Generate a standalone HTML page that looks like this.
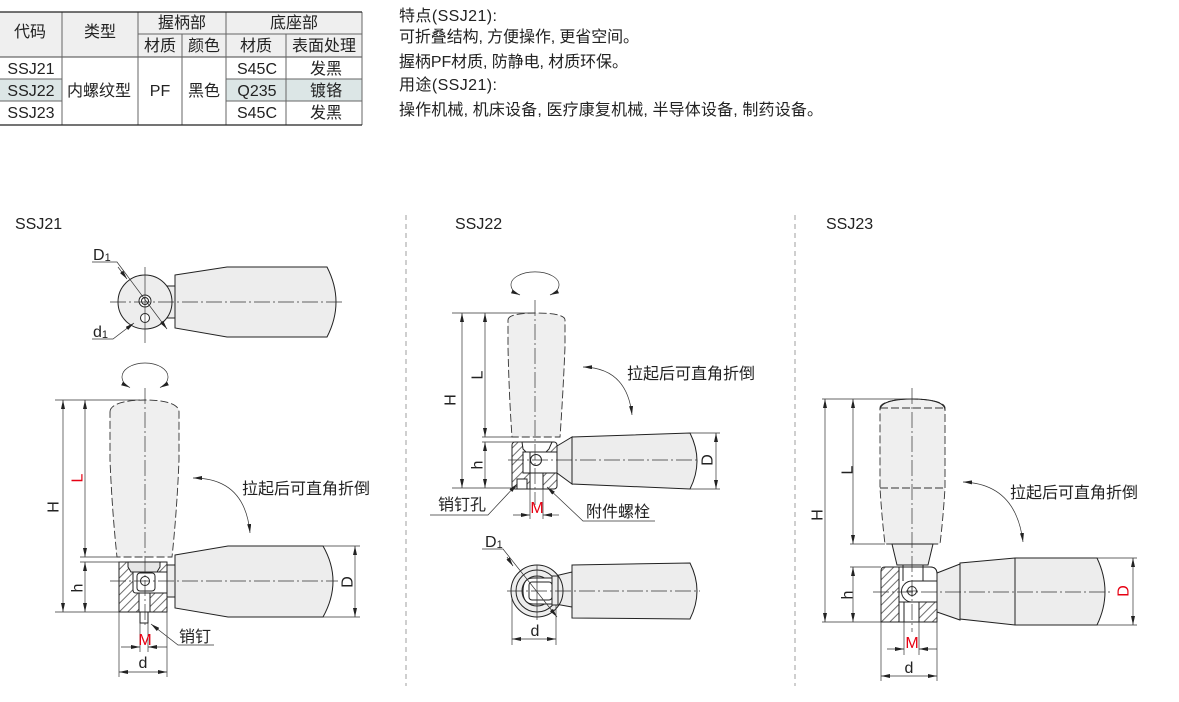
<!DOCTYPE html>
<html><head><meta charset="utf-8"><style>
html,body{margin:0;padding:0;background:#fff;}
svg{display:block;}
text{font-family:"Liberation Sans","Noto Sans CJK SC",sans-serif;fill:#222;}
.o{stroke:#222;stroke-width:1;}
.c{stroke:#333;stroke-width:0.7;stroke-dasharray:16 3 2 3;fill:none;}
.p{stroke:#333;stroke-width:0.9;stroke-dasharray:8 3;}
.d{stroke:#333;stroke-width:0.7;fill:none;}
.g{fill:#ededed;}
.w{fill:#fff;}
.r{fill:#e60012;}
</style></head><body>
<svg width="1179" height="702" viewBox="0 0 1179 702" xmlns="http://www.w3.org/2000/svg">
<defs>
<marker id="a" viewBox="0 0 9 4" refX="9" refY="2" markerWidth="9" markerHeight="4" markerUnits="userSpaceOnUse" orient="auto-start-reverse"><path d="M0,0 L9,2 L0,4 Z" fill="#222"/></marker>
<pattern id="hp" patternUnits="userSpaceOnUse" width="6" height="6" patternTransform="rotate(45)"><rect width="6" height="6" fill="#fff"/><line x1="1" y1="0" x2="1" y2="6" stroke="#333" stroke-width="0.7"/></pattern>
</defs>

<!-- ===== TABLE ===== -->
<rect x="0" y="12" width="362" height="45" fill="#efefef"/>
<rect x="0" y="79" width="62" height="22" fill="#dce6e6"/>
<rect x="226" y="79" width="136" height="22" fill="#dce6e6"/>
<g stroke="#666" stroke-width="1" fill="none">
<line x1="138" y1="34" x2="362" y2="34"/>
<line x1="0" y1="57" x2="362" y2="57" stroke="#444"/>
<line x1="0" y1="79" x2="62" y2="79"/><line x1="226" y1="79" x2="362" y2="79"/>
<line x1="0" y1="101" x2="62" y2="101"/><line x1="226" y1="101" x2="362" y2="101"/>
<line x1="62" y1="12" x2="62" y2="125"/>
<line x1="138" y1="12" x2="138" y2="125"/>
<line x1="182" y1="34" x2="182" y2="125"/>
<line x1="226" y1="12" x2="226" y2="125"/>
<line x1="286" y1="34" x2="286" y2="125"/>
<line x1="362" y1="12" x2="362" y2="125"/>
</g>
<line x1="0" y1="12" x2="362" y2="12" stroke="#222" stroke-width="1.3"/>
<line x1="0" y1="125" x2="362" y2="125" stroke="#222" stroke-width="1.3"/>
<g font-size="16" text-anchor="middle">
<text x="30" y="37">代码</text>
<text x="100" y="37">类型</text>
<text x="182" y="28">握柄部</text>
<text x="294" y="28">底座部</text>
<text x="160" y="51">材质</text>
<text x="204" y="51">颜色</text>
<text x="256" y="51">材质</text>
<text x="324" y="51">表面处理</text>
<text x="31" y="74">SSJ21</text>
<text x="31" y="96">SSJ22</text>
<text x="31" y="118">SSJ23</text>
<text x="99" y="96">内螺纹型</text>
<text x="160" y="96">PF</text>
<text x="204" y="96">黑色</text>
<text x="257" y="74">S45C</text>
<text x="257" y="96">Q235</text>
<text x="257" y="118">S45C</text>
<text x="326" y="74">发黑</text>
<text x="326" y="96">镀铬</text>
<text x="326" y="118">发黑</text>
</g>

<!-- ===== DESCRIPTION ===== -->
<g font-size="16" xml:space="preserve">
<text x="399" y="21" textLength="98" lengthAdjust="spacing">特点(SSJ21):</text>
<text x="399" y="42" textLength="240" lengthAdjust="spacing">可折叠结构, 方便操作, 更省空间。</text>
<text x="399" y="67" textLength="229" lengthAdjust="spacing">握柄PF材质, 防静电, 材质环保。</text>
<text x="399" y="90" textLength="98" lengthAdjust="spacing">用途(SSJ21):</text>
<text x="399" y="115" textLength="424" lengthAdjust="spacing">操作机械, 机床设备, 医疗康复机械, 半导体设备, 制药设备。</text>
</g>

<!-- separators -->
<line x1="406" y1="215" x2="406" y2="686" stroke="#888" stroke-width="0.8" stroke-dasharray="5 4"/>
<line x1="795" y1="215" x2="795" y2="686" stroke="#888" stroke-width="0.8" stroke-dasharray="5 4"/>

<!-- titles -->
<g font-size="16">
<text x="15" y="229">SSJ21</text>
<text x="455" y="229">SSJ22</text>
<text x="826" y="229">SSJ23</text>
</g>

<!-- ===== SSJ21 TOP VIEW ===== -->
<path class="g o" d="M175,275 L227,267 L327,267 Q345,302 327,337 L227,337 L175,328 Z"/>
<rect class="g o" x="165" y="286" width="10" height="32"/>
<circle class="g o" cx="145" cy="302" r="27"/>
<circle class="w o" cx="145" cy="301" r="6"/>
<circle class="w o" cx="145" cy="301" r="3.5"/>
<circle class="w o" cx="145" cy="318" r="4.5"/>
<line class="c" x1="110" y1="302" x2="343" y2="302"/>
<line class="d" x1="145" y1="267" x2="145" y2="343"/>
<polyline class="d" points="92,262 117,262 167,329" marker-end="url(#a)"/>
<line class="d" x1="118" y1="267" x2="127" y2="279" marker-end="url(#a)"/>
<polyline class="d" points="92,339 113,339 134,323" marker-end="url(#a)"/>
<text x="93" y="260" font-size="16">D<tspan font-size="11" dy="1">1</tspan></text>
<text x="93" y="337" font-size="16">d<tspan font-size="11" dy="1">1</tspan></text>

<!-- ===== SSJ21 SIDE VIEW ===== -->
<path class="d" d="M130,387.6 A23,14 0 1,1 160,387.6" marker-start="url(#a)" marker-end="url(#a)"/>
<path class="p" fill="#efefef" d="M110,412 C110,404 125,400 145,400 C165,400 179,404 179,412 L179,460 Q177,510 172,557 L117,557 Q112,510 110,460 Z"/>
<!-- base -->
<rect class="o" x="119" y="562" width="48" height="50" fill="url(#hp)"/>
<path class="o" fill="#e6e6e6" d="M128,562 L160,562 L160,567 L157,572 L131,572 L128,567 Z"/>
<path class="o w" d="M133,572 L167,572 L167,593 L136,593 Q133,593 133,590 Z"/>
<rect class="o w" x="137" y="573" width="18" height="18" rx="3"/>
<circle class="o w" cx="145" cy="581" r="4.5"/>
<rect class="o w" x="139" y="593" width="11" height="19"/>
<rect class="o w" x="140" y="612" width="8" height="11"/>
<!-- neck & handle -->
<rect class="g o" x="167" y="565" width="8" height="32"/>
<path class="g o" d="M175,555 L228,546 L323,546 Q343,581 323,617 L228,617 L175,608 Z"/>
<line class="c" x1="110" y1="581" x2="338" y2="581"/>
<line class="c" x1="145" y1="388" x2="145" y2="628"/>
<!-- dims -->
<g class="d">
<line x1="55" y1="400" x2="140" y2="400"/>
<line x1="80" y1="557" x2="117" y2="557"/>
<line x1="80" y1="562" x2="127" y2="562"/>
<line x1="55" y1="612" x2="119" y2="612"/>
<line x1="63" y1="400" x2="63" y2="612" marker-start="url(#a)" marker-end="url(#a)"/>
<line x1="85" y1="400" x2="85" y2="557" marker-start="url(#a)" marker-end="url(#a)"/>
<line x1="85" y1="562" x2="85" y2="612" marker-start="url(#a)" marker-end="url(#a)"/>
<line x1="323" y1="546" x2="360" y2="546"/>
<line x1="323" y1="617" x2="360" y2="617"/>
<line x1="355" y1="546" x2="355" y2="617" marker-start="url(#a)" marker-end="url(#a)"/>
<line x1="140" y1="623" x2="140" y2="652"/>
<line x1="148" y1="623" x2="148" y2="652"/>
<line x1="121" y1="647" x2="140" y2="647" marker-end="url(#a)"/>
<line x1="167" y1="647" x2="148" y2="647" marker-end="url(#a)"/>
<line x1="119" y1="612" x2="119" y2="677"/>
<line x1="167" y1="612" x2="167" y2="677"/>
<line x1="119" y1="672" x2="167" y2="672" marker-start="url(#a)" marker-end="url(#a)"/>
<path d="M193,478 Q245,478 250,533" marker-start="url(#a)" marker-end="url(#a)"/>
<polyline points="214,645 178,645 151,624" marker-end="url(#a)"/>
</g>
<g font-size="16" text-anchor="middle">
<text transform="translate(53,507) rotate(-90)" dy="0.35em">H</text>
<text class="r" transform="translate(77,478) rotate(-90)" dy="0.35em">L</text>
<text transform="translate(77,588) rotate(-90)" dy="0.35em">h</text>
<text transform="translate(347,582) rotate(-90)" dy="0.35em">D</text>
<text class="r" x="145" y="645">M</text>
<text x="143" y="668">d</text>
</g>
<text x="242" y="494" font-size="16">拉起后可直角折倒</text>
<text x="179" y="642" font-size="16">销钉</text>

<!-- ===== SSJ22 SIDE VIEW ===== -->
<path class="d" d="M520,295 A24,13 0 1,1 550,295" marker-start="url(#a)" marker-end="url(#a)"/>
<path class="p" fill="#efefef" d="M508,320 C508,315 520,313 536,313 C552,313 565,315 565,320 L565,347 Q563,395 560,437 L512,437 Q509,395 508,347 Z"/>
<rect class="o" x="512" y="442" width="45" height="47" rx="3" fill="url(#hp)"/>
<path class="o w" d="M522,442 L552,442 L549,449 L546,452 L526,452 L523,449 Z"/>
<rect class="o w" x="523" y="452" width="34" height="21"/>
<rect class="o w" x="530" y="452" width="27" height="21"/>
<circle class="o w" cx="536" cy="460" r="5.5"/>
<rect class="o w" x="530" y="473" width="13" height="16"/>
<rect class="o w" x="517" y="479" width="10" height="10"/>
<path class="g o" d="M557,446 L572,437 L572,484 L557,473 Z"/>
<path class="g o" d="M572,437 L690,433 Q704,461 690,489 L572,484 Z"/>
<line class="c" x1="508" y1="460" x2="697" y2="460"/>
<line class="c" x1="535" y1="300" x2="535" y2="505"/>
<g class="d">
<line x1="452" y1="313" x2="535" y2="313"/>
<line x1="482" y1="437" x2="512" y2="437"/>
<line x1="482" y1="442" x2="522" y2="442"/>
<line x1="452" y1="488" x2="512" y2="488"/>
<line x1="462" y1="313" x2="462" y2="488" marker-start="url(#a)" marker-end="url(#a)"/>
<line x1="485" y1="313" x2="485" y2="437" marker-start="url(#a)" marker-end="url(#a)"/>
<line x1="485" y1="442" x2="485" y2="488" marker-start="url(#a)" marker-end="url(#a)"/>
<line x1="690" y1="433" x2="720" y2="433"/>
<line x1="690" y1="489" x2="720" y2="489"/>
<line x1="716" y1="433" x2="716" y2="489" marker-start="url(#a)" marker-end="url(#a)"/>
<line x1="530" y1="489" x2="530" y2="519"/>
<line x1="543" y1="489" x2="543" y2="519"/>
<line x1="513" y1="515" x2="530" y2="515" marker-end="url(#a)"/>
<line x1="559" y1="515" x2="543" y2="515" marker-end="url(#a)"/>
<path d="M583,367 Q627,368 632,415" marker-start="url(#a)" marker-end="url(#a)"/>
<polyline points="430,515 488,515 517,484" marker-end="url(#a)"/>
<polyline points="655,521 583,521 547,487" marker-end="url(#a)"/>
</g>
<g font-size="16" text-anchor="middle">
<text transform="translate(450,400) rotate(-90)" dy="0.35em">H</text>
<text transform="translate(477,375) rotate(-90)" dy="0.35em">L</text>
<text transform="translate(477,465) rotate(-90)" dy="0.35em">h</text>
<text transform="translate(707,460) rotate(-90)" dy="0.35em">D</text>
<text class="r" x="537" y="513">M</text>
</g>
<text x="627" y="379" font-size="16">拉起后可直角折倒</text>
<text x="438" y="510" font-size="16">销钉孔</text>
<text x="586" y="517" font-size="16">附件螺栓</text>

<!-- ===== SSJ22 BOTTOM VIEW ===== -->
<path class="g o" d="M572,565 L690,563 Q704,591 690,619 L572,618 Z"/>
<path class="g o" d="M555,576 L572,572 L572,607 L555,604 Z"/>
<circle class="g o" cx="537" cy="591" r="26"/>
<circle class="o" fill="none" cx="537" cy="591" r="21"/>
<circle class="g o" cx="537" cy="591" r="15"/>
<path class="o w" d="M533,578 L556,578 L556,604 L533,604 Q523,604 523,591 Q523,578 533,578 Z"/>
<rect class="o w" x="529" y="582" width="23" height="18" rx="3"/>
<rect class="g o" x="552" y="576" width="6" height="29"/>
<line class="c" x1="507" y1="591" x2="700" y2="591"/>
<line class="d" x1="537" y1="565" x2="537" y2="620"/>
<g class="d">
<polyline points="482,549 503,549 557,617" marker-end="url(#a)"/>
<line x1="507" y1="557" x2="513" y2="566" marker-end="url(#a)"/>
<line x1="512" y1="598" x2="512" y2="645"/>
<line x1="556" y1="605" x2="556" y2="645"/>
<line x1="512" y1="639" x2="556" y2="639" marker-start="url(#a)" marker-end="url(#a)"/>
</g>
<text x="485" y="547" font-size="16">D<tspan font-size="11" dy="1">1</tspan></text>
<text x="535" y="636" font-size="16" text-anchor="middle">d</text>

<!-- ===== SSJ23 ===== -->
<path class="p" fill="#efefef" d="M880,408 C880,402 895,399 912,399 C930,399 945,402 945,408 L945,488 Q943,520 940,544 L885,544 Q882,520 880,488 Z"/>
<path class="o" fill="none" d="M880,410 C880,402 895,399 912,399 C930,399 945,402 945,410"/>
<line class="p" x1="880" y1="408" x2="945" y2="408"/>
<line class="p" x1="880" y1="488" x2="945" y2="488"/>
<path class="o" fill="#efefef" d="M892,544 L897,565 L928,565 L933,544 Z"/>
<path class="o" fill="url(#hp)" d="M885,567 L930,567 Q937,567 937,574 L937,622 L881,622 L881,571 Q881,567 885,567 Z"/>
<path class="o w" d="M899,567 L930,567 Q937,567 937,574 L937,602 L899,602 Z"/>
<line class="o" x1="903" y1="565" x2="903" y2="581"/>
<line class="o" x1="923" y1="565" x2="923" y2="581"/>
<path class="o w" d="M937,581 L912,581 A10.5,10.5 0 0,0 912,602 L937,602"/>
<circle class="o w" cx="912" cy="591" r="4.5"/>
<line class="d" x1="906" y1="591" x2="918" y2="591"/>
<line class="d" x1="912" y1="585" x2="912" y2="597"/>
<rect class="o w" x="899" y="602" width="20" height="20"/>
<line class="o" x1="904" y1="602" x2="904" y2="622"/>
<path class="g o" d="M937,573 L960,564 L960,620 L937,612 Z"/>
<path class="g o" d="M960,563 L1015,558 L1097,558 Q1113,592 1097,625 L1015,625 L960,619 Z"/>
<line class="o" x1="1015" y1="558" x2="1015" y2="625"/>
<line class="c" x1="873" y1="592" x2="1112" y2="592"/>
<line class="c" x1="912" y1="388" x2="912" y2="632"/>
<g class="d">
<line x1="822" y1="399" x2="912" y2="399"/>
<line x1="850" y1="544" x2="885" y2="544"/>
<line x1="850" y1="567" x2="881" y2="567"/>
<line x1="822" y1="622" x2="881" y2="622"/>
<line x1="825" y1="399" x2="825" y2="622" marker-start="url(#a)" marker-end="url(#a)"/>
<line x1="853" y1="399" x2="853" y2="544" marker-start="url(#a)" marker-end="url(#a)"/>
<line x1="853" y1="567" x2="853" y2="622" marker-start="url(#a)" marker-end="url(#a)"/>
<line x1="1097" y1="558" x2="1137" y2="558"/>
<line x1="1097" y1="625" x2="1137" y2="625"/>
<line x1="1133" y1="558" x2="1133" y2="625" marker-start="url(#a)" marker-end="url(#a)"/>
<line x1="904" y1="622" x2="904" y2="655"/>
<line x1="919" y1="622" x2="919" y2="655"/>
<line x1="887" y1="649" x2="904" y2="649" marker-end="url(#a)"/>
<line x1="937" y1="649" x2="919" y2="649" marker-end="url(#a)"/>
<line x1="881" y1="622" x2="881" y2="681"/>
<line x1="937" y1="622" x2="937" y2="681"/>
<line x1="881" y1="676" x2="937" y2="676" marker-start="url(#a)" marker-end="url(#a)"/>
<path d="M963,482 Q1016,484 1023,542" marker-start="url(#a)" marker-end="url(#a)"/>
</g>
<g font-size="16" text-anchor="middle">
<text transform="translate(817,515) rotate(-90)" dy="0.35em">H</text>
<text transform="translate(847,470) rotate(-90)" dy="0.35em">L</text>
<text transform="translate(847,595) rotate(-90)" dy="0.35em">h</text>
<text class="r" transform="translate(1123,591) rotate(-90)" dy="0.35em">D</text>
<text class="r" x="912" y="648">M</text>
<text x="909" y="673">d</text>
</g>
<text x="1010" y="498" font-size="16">拉起后可直角折倒</text>
</svg>
</body></html>
